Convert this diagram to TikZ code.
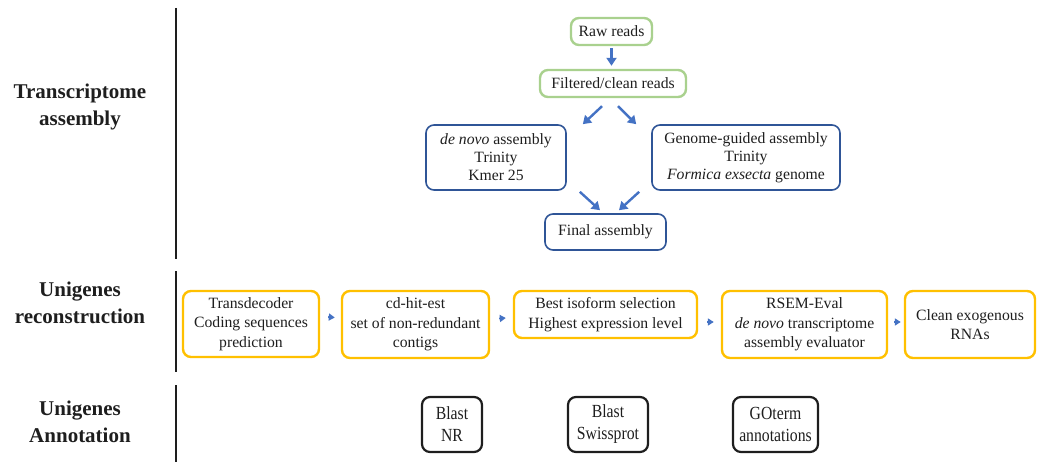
\documentclass[tikz,border=0pt]{standalone}
\usepackage{fontspec}
\setmainfont{Liberation Serif}
\newfontfamily\narrowfont[FakeStretch=0.85]{Liberation Serif}
\usetikzlibrary{arrows.meta,calc}
\definecolor{grn}{RGB}{169,209,142}
\definecolor{blu}{RGB}{47,85,151}
\definecolor{orn}{RGB}{255,192,0}
\definecolor{arr}{RGB}{68,114,196}
\definecolor{ink}{RGB}{30,30,30}
\begin{document}
\begin{tikzpicture}[x=1pt,y=-1pt,
  every node/.style={font=\fontsize{15.7}{18}\selectfont, text=ink},
  box/.style={draw, rounded corners=8pt, align=center, inner sep=0pt},
  greenbox/.style={box, draw=grn, line width=2.4pt},
  bluebox/.style={box, draw=blu, line width=1.6pt},
  orangebox/.style={box, draw=orn, line width=2.4pt, font=\fontsize{15.7}{19.5}\selectfont},
  annbox/.style={box, draw=ink, line width=2.2pt, font=\narrowfont\fontsize{18.5}{22}\selectfont},
  heading/.style={font=\bfseries\fontsize{21}{27}\selectfont, align=center, text=ink},
  flow/.style={draw=arr, line width=2.4pt, -{Triangle[length=8pt,width=10pt]}},
  smallflow/.style={draw=arr, line width=1.6pt, -{Triangle[length=6pt,width=7pt]}},
  sep/.style={draw=ink, line width=2pt}
]
\useasboundingbox (0,0) rectangle (1038,462);

% section separators
\draw[sep] (176,8) -- (176,259);
\draw[sep] (176,271) -- (176,372);
\draw[sep] (176,385) -- (176,462);

% headings
\node[heading] (h1) at (80,106.5) {Transcriptome\\assembly};
\node[heading] (h2) at (80,303) {Unigenes\\reconstruction};
\node[heading] (h3) at (80,422) {Unigenes\\Annotation};

% transcriptome assembly
\node[greenbox, minimum width=81pt, minimum height=27pt] (raw) at (611.5,31.5) {Raw reads};
\node[greenbox, minimum width=146pt, minimum height=27pt] (filt) at (613,83.5) {Filtered/clean reads};
\node[bluebox, minimum width=140pt, minimum height=65pt] (dn) at (496,157.5) {\textit{de novo} assembly\\Trinity\\Kmer 25};
\node[bluebox, minimum width=188pt, minimum height=65pt] (gg) at (746,157.5) {Genome-guided assembly\\Trinity\\\textit{Formica exsecta} genome};
\node[bluebox, minimum width=121pt, minimum height=36pt] (fin) at (605.5,232) {Final assembly};

\draw[flow] ($(raw.south)+(0,2)$) -- ($(raw.south|-filt.north)+(0,-3)$);
\draw[flow] ($(filt.south)+(-11,8)$) -- ($(dn.north east)+(16,0)$);
\draw[flow] ($(filt.south)+(5,8)$) -- ($(gg.north west)+(-15,0)$);
\draw[flow] ($(dn.south east)+(13,1)$) -- ($(fin.north)+(-5.5,-3)$);
\draw[flow] ($(gg.south west)+(-12,1)$) -- ($(fin.north)+(13.5,-3)$);

% unigenes reconstruction
\node[orangebox, minimum width=136pt, minimum height=66pt] (td) at (251,324) {Transdecoder\\Coding sequences\\prediction};
\node[orangebox, minimum width=147pt, minimum height=67pt] (cd) at (415.5,324.5) {cd-hit-est\\set of non-redundant\\contigs};
\node[orangebox, minimum width=183pt, minimum height=47pt] (bi) at (605.5,314.5) {Best isoform selection\\Highest expression level};
\node[orangebox, minimum width=165pt, minimum height=67pt] (rs) at (804.5,324.5) {RSEM-Eval\\\textit{de novo} transcriptome\\assembly evaluator};
\node[orangebox, minimum width=130pt, minimum height=67pt] (cl) at (970,324.5) {Clean exogenous\\RNAs};

\draw[smallflow] ($(td.east)+(8,-7)$) -- ($(cd.west)+(-6,-7)$);
\draw[smallflow] ($(cd.east)+(9,-6)$) -- ($(bi.west)+(-7,3.5)$);
\draw[smallflow] ($(bi.east)+(9,7.5)$) -- ($(rs.west)+(-7,-2.5)$);
\draw[smallflow] ($(rs.east)+(6,-2.5)$) -- ($(cl.west)+(-3,-2.5)$);

% annotation
\node[annbox, minimum width=60pt, minimum height=55pt] (bnr) at (452,424.5) {Blast\\NR};
\node[annbox, minimum width=80pt, minimum height=55pt] (bsw) at (608,424.5) {Blast\\Swissprot};
\node[annbox, minimum width=85pt, minimum height=55pt] (go) at (775.5,424.5) {GOterm\\annotations};
\end{tikzpicture}
\end{document}
